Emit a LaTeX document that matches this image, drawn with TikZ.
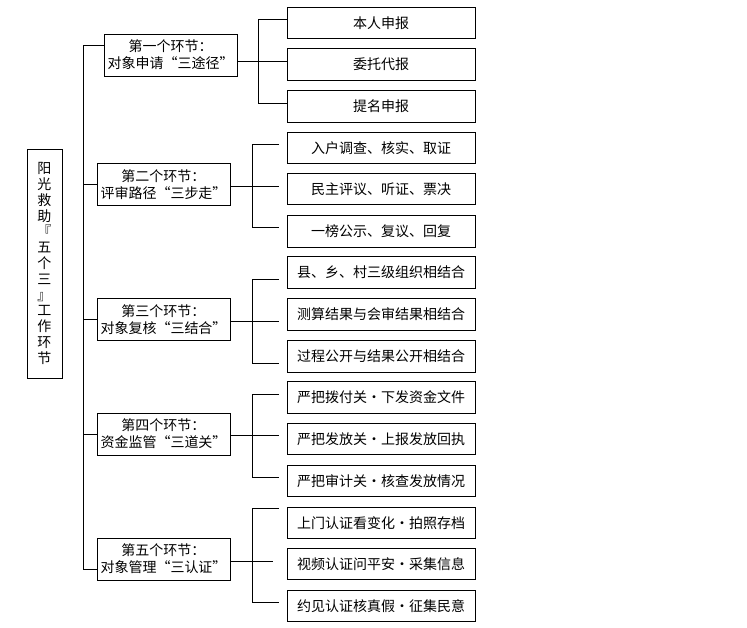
\documentclass[tikz,border=0pt]{standalone}
\usepackage{fontspec}
\newfontfamily\cjk{Noto Sans CJK SC}
\begin{document}
\begin{tikzpicture}[x=0.75pt,y=-0.75pt,line width=0.75pt,
    every node/.style={font=\cjk\fontsize{10.5pt}{12.75pt}\selectfont,inner sep=0pt},
    rootbox/.style={draw,minimum width=26.25pt,minimum height=171.75pt,align=center,
      font=\cjk\fontsize{10.5pt}{11.85pt}\selectfont},
    stagebox/.style={draw,minimum width=99.75pt,minimum height=31.5pt,align=center},
    itembox/.style={draw,minimum width=141pt,minimum height=23.6pt}]
  \useasboundingbox (0,0) rectangle (747,628);
  \node[rootbox] (r) at (44.5,263.5)
    {阳\\光\\救\\助\\『\\五\\个\\三\\』\\工\\作\\环\\节};
  \node[stagebox] (s1) at (170.5,55) {第一个环节：\\对象申请“三途径”};
  \node[stagebox] (s2) at (163.5,184.5) {第二个环节：\\评审路径“三步走”};
  \node[stagebox] (s3) at (163.5,319.5) {第三个环节：\\对象复核“三结合”};
  \node[stagebox] (s4) at (163.5,434) {第四个环节：\\资金监管“三道关”};
  \node[stagebox] (s5) at (163.5,559) {第五个环节：\\对象管理“三认证”};
  \draw
    (381,23) node[itembox] (c1a){本人申报}
    (381,64.5) node[itembox] (c1b){委托代报}
    (381,106.5) node[itembox] (c1c){提名申报}
    (381,148) node[itembox] (c2a){入户调查、核实、取证}
    (381,189) node[itembox] (c2b){民主评议、听证、票决}
    (381,231.5) node[itembox] (c2c){一榜公示、复议、回复}
    (381,272.5) node[itembox] (c3a){县、乡、村三级组织相结合}
    (381,314.5) node[itembox] (c3b){测算结果与会审结果相结合}
    (381,356.5) node[itembox] (c3c){过程公开与结果公开相结合}
    (381,397.5) node[itembox] (c4a){严把拨付关・下发资金文件}
    (381,439) node[itembox] (c4b){严把发放关・上报发放回执}
    (381,481) node[itembox] (c4c){严把审计关・核查发放情况}
    (381,523) node[itembox] (c5a){上门认证看变化・拍照存档}
    (381,564) node[itembox] (c5b){视频认证问平安・采集信息}
    (381,606) node[itembox] (c5c){约见认证核真假・征集民意};
  % trunk
  \coordinate (t1) at (83,45);
  \coordinate (t5) at (83,569);
  \draw (s1.west |- t1) -- (t1) -- (t5) -- (s5.west |- t5);
  \draw (t1 |- s2.west) -- (s2.west);
  \draw (t1 |- s3.west) -- (s3.west);
  \draw (t1 |- s4.west) -- (s4.west);
  % branches
  \draw (s1.east |- 0,61) -- (c1b.west |- 0,61);
  \draw (c1a.west |- 0,19) -| (258,103) -- (c1c.west |- 0,103);
  \draw (s2.east |- 0,186) -- (279,186);
  \draw (279,144) -| (252,227) -- (279,227);
  \draw (s3.east |- 0,321) -- (279,321);
  \draw (279,279) -| (252,363) -- (279,363);
  \draw (s4.east |- 0,435) -- (279,435);
  \draw (279,394) -| (252,477) -- (279,477);
  \draw (s5.east |- 0,561) -- (273,561);
  \draw (279,508) -| (252,602) -- (279,602);
\end{tikzpicture}
\end{document}
